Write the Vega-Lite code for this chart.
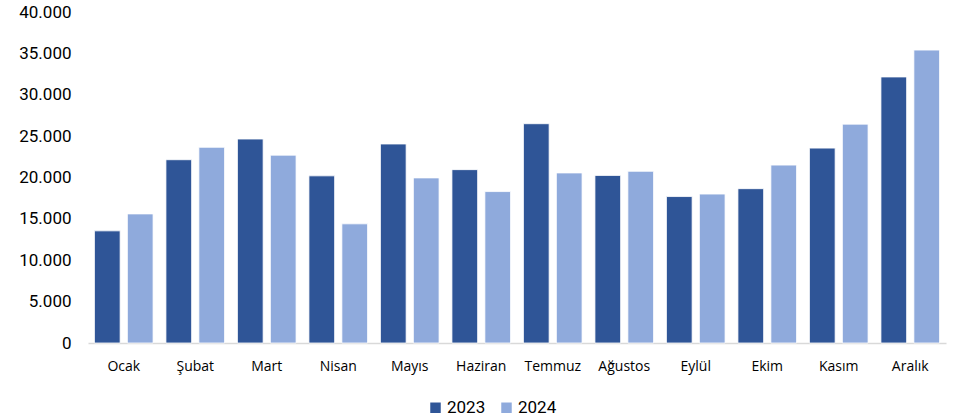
{
  "$schema": "https://vega.github.io/schema/vega-lite/v6.json",
  "autosize": {"type": "none"},
  "width": 858,
  "height": 331,
  "padding": {"left": 88, "top": 12, "right": 15, "bottom": 77},
  "background": "white",
  "data": {
    "values": [
      {"month": "Ocak", "year": "2023", "value": 13550},
      {"month": "Ocak", "year": "2024", "value": 15600},
      {"month": "Şubat", "year": "2023", "value": 22150},
      {"month": "Şubat", "year": "2024", "value": 23650},
      {"month": "Mart", "year": "2023", "value": 24650},
      {"month": "Mart", "year": "2024", "value": 22700},
      {"month": "Nisan", "year": "2023", "value": 20200},
      {"month": "Nisan", "year": "2024", "value": 14400},
      {"month": "Mayıs", "year": "2023", "value": 24050},
      {"month": "Mayıs", "year": "2024", "value": 19950},
      {"month": "Haziran", "year": "2023", "value": 20950},
      {"month": "Haziran", "year": "2024", "value": 18300},
      {"month": "Temmuz", "year": "2023", "value": 26500},
      {"month": "Temmuz", "year": "2024", "value": 20550},
      {"month": "Ağustos", "year": "2023", "value": 20250},
      {"month": "Ağustos", "year": "2024", "value": 20750},
      {"month": "Eylül", "year": "2023", "value": 17700},
      {"month": "Eylül", "year": "2024", "value": 18000},
      {"month": "Ekim", "year": "2023", "value": 18650},
      {"month": "Ekim", "year": "2024", "value": 21500},
      {"month": "Kasım", "year": "2023", "value": 23550},
      {"month": "Kasım", "year": "2024", "value": 26450},
      {"month": "Aralık", "year": "2023", "value": 32150},
      {"month": "Aralık", "year": "2024", "value": 35400}
    ]
  },
  "mark": {"type": "bar", "stroke": "white", "strokeWidth": 0.8},
  "encoding": {
    "x": {
      "field": "month",
      "type": "nominal",
      "sort": null,
      "scale": {"paddingInner": 0.18, "paddingOuter": 0.09},
      "axis": {
        "title": null,
        "labelAngle": 0,
        "ticks": false,
        "labelPadding": 16,
        "labelFont": "Open Sans",
        "labelFontSize": 14,
        "labelColor": "#000000",
        "domainColor": "#d9d9d9",
        "domainWidth": 1.5
      }
    },
    "xOffset": {"field": "year", "type": "nominal", "scale": {"paddingInner": 0.22}},
    "y": {
      "field": "value",
      "type": "quantitative",
      "scale": {"domain": [0, 40000], "nice": false},
      "axis": {
        "title": null,
        "values": [0, 5000, 10000, 15000, 20000, 25000, 30000, 35000, 40000],
        "labelExpr": "replace(format(datum.value, ','), ',', '.')",
        "domain": false,
        "ticks": false,
        "grid": false,
        "labelPadding": 17,
        "labelFont": "Roboto",
        "labelFontSize": 17,
        "labelColor": "#000000"
      }
    },
    "color": {
      "field": "year",
      "type": "nominal",
      "scale": {"domain": ["2023", "2024"], "range": ["#2F5597", "#8FAADC"]},
      "legend": {
        "title": null,
        "orient": "none",
        "legendX": 339,
        "legendY": 387,
        "direction": "horizontal",
        "symbolType": "square",
        "symbolSize": 110,
        "symbolStrokeWidth": 0,
        "labelFont": "Roboto",
        "labelFontSize": 17,
        "labelColor": "#000000",
        "labelOffset": 3,
        "columnPadding": 12
      }
    }
  },
  "config": {"view": {"stroke": null}}
}
